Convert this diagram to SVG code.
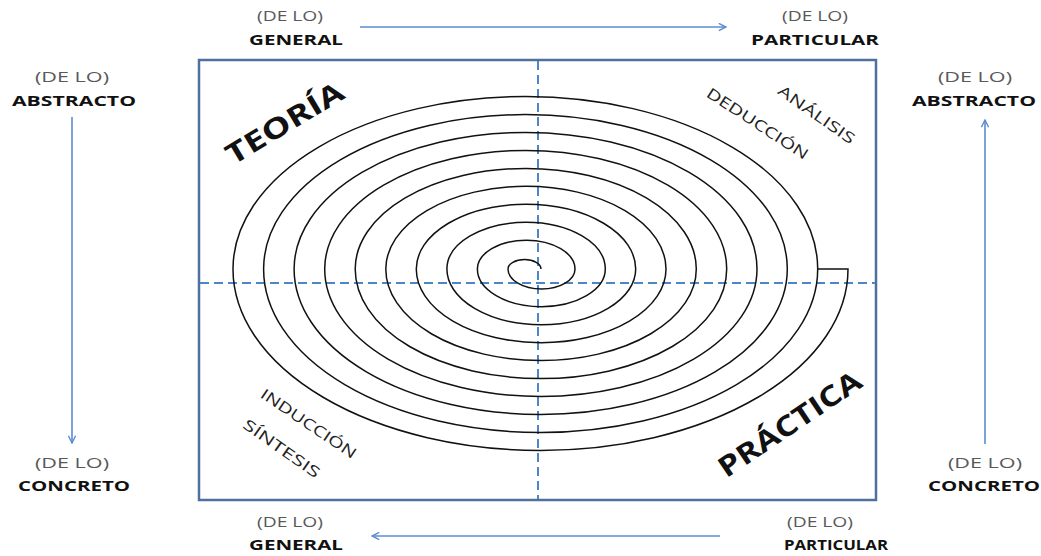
<svg xmlns="http://www.w3.org/2000/svg" width="1041" height="556" viewBox="0 0 1041 556">
  <defs>
    <marker id="head" viewBox="0 0 10 10" refX="9" refY="5" markerWidth="9" markerHeight="9" markerUnits="userSpaceOnUse" orient="auto">
      <path d="M1,1 L9,5 L1,9" fill="none" stroke="#5b8dd0" stroke-width="1.6"/>
    </marker>
    <style>
      .frame { fill: #ffffff; stroke: #4f6f9f; stroke-width: 2.5; }
      .axis { fill: none; stroke: #4a86c8; stroke-width: 2; stroke-dasharray: 9 5; }
      .spiral { fill: none; stroke: #111111; stroke-width: 1.5; }
      .arrow { fill: none; stroke: #5b8dd0; stroke-width: 1.6; marker-end: url(#head); }
      .pre { font-family: "Open Sans", "Liberation Sans", sans-serif; font-size: 15px; fill: #595959; text-anchor: middle; }
      .term { font-family: "Open Sans", "Liberation Sans", sans-serif; font-size: 15px; font-weight: bold; fill: #111111; text-anchor: middle; }
      .title { font-family: "Open Sans", "Liberation Sans", sans-serif; font-size: 28px; font-weight: bold; fill: #111111; text-anchor: middle; dominant-baseline: central; }
      .method { font-family: "Open Sans", "Liberation Sans", sans-serif; font-size: 15px; fill: #222222; text-anchor: middle; dominant-baseline: central; }
    </style>
  </defs>

  <rect width="1041" height="556" fill="#ffffff"/>

  <!-- square frame with quadrant axes -->
  <g id="frame">
    <rect class="frame" x="199" y="60" width="677" height="440"/>
    <line class="axis" x1="538" y1="61" x2="538" y2="499"/>
    <line class="axis" x1="200" y1="283" x2="875" y2="283"/>
  </g>

  <!-- spiral built from alternating half-ellipses -->
  <g id="spiral">
    <path class="spiral" d="M541,269
      A16.5,9.5 0 0 0 508,269
      A33.5,20 0 0 0 575,269
      A48.8,28.8 0 0 0 477.4,269
      A63.95,37.7 0 0 0 605.3,269
      A79.2,46.7 0 0 0 446.9,269
      A94.4,55.7 0 0 0 635.7,269
      A109.7,64.7 0 0 0 416.3,269
      A124.85,73.7 0 0 0 666,269
      A140.1,82.7 0 0 0 385.8,269
      A155.25,91.6 0 0 0 696.3,269
      A170.55,100.6 0 0 0 355.2,269
      A185.75,109.6 0 0 0 726.7,269
      A201,118.6 0 0 0 324.7,269
      A216.15,127.5 0 0 0 757,269
      A231.45,136.6 0 0 0 294.1,269
      A246.6,145.5 0 0 0 787.3,269
      A261.85,154.5 0 0 0 263.6,269
      A277.05,163.5 0 0 0 817.7,269
      A292.35,172.5 0 0 0 233,269
      A307.5,181.4 0 0 0 848,269
      H817.7"/>
  </g>

  <!-- quadrant labels -->
  <g id="teoria">
    <text class="title" transform="translate(284,122) rotate(-31)" textLength="132" lengthAdjust="spacingAndGlyphs">TEORÍA</text>
  </g>
  <g id="practica">
    <text class="title" transform="translate(789,423) rotate(-34)" textLength="166" lengthAdjust="spacingAndGlyphs">PRÁCTICA</text>
  </g>
  <g id="analisis">
    <text class="method" transform="translate(817,114) rotate(35)" textLength="90" lengthAdjust="spacingAndGlyphs">ANÁLISIS</text>
  </g>
  <g id="deduccion">
    <text class="method" transform="translate(758,123) rotate(33)" textLength="118" lengthAdjust="spacingAndGlyphs">DEDUCCIÓN</text>
  </g>
  <g id="induccion">
    <text class="method" transform="translate(309,423) rotate(34)" textLength="112" lengthAdjust="spacingAndGlyphs">INDUCCIÓN</text>
  </g>
  <g id="sintesis">
    <text class="method" transform="translate(282,448) rotate(35)" textLength="90" lengthAdjust="spacingAndGlyphs">SÍNTESIS</text>
  </g>

  <!-- end labels -->
  <g id="top-general">
    <text class="pre" x="290" y="21" textLength="66" lengthAdjust="spacingAndGlyphs">(DE LO)</text>
    <text class="term" x="296" y="45" textLength="94" lengthAdjust="spacingAndGlyphs">GENERAL</text>
  </g>
  <g id="top-particular">
    <text class="pre" x="815" y="21" textLength="66" lengthAdjust="spacingAndGlyphs">(DE LO)</text>
    <text class="term" x="815" y="45" textLength="128" lengthAdjust="spacingAndGlyphs">PARTICULAR</text>
  </g>
  <g id="left-abstracto">
    <text class="pre" x="72" y="82" textLength="74" lengthAdjust="spacingAndGlyphs">(DE LO)</text>
    <text class="term" x="74" y="106" textLength="124" lengthAdjust="spacingAndGlyphs">ABSTRACTO</text>
  </g>
  <g id="left-concreto">
    <text class="pre" x="72" y="468" textLength="74" lengthAdjust="spacingAndGlyphs">(DE LO)</text>
    <text class="term" x="74" y="491" textLength="112" lengthAdjust="spacingAndGlyphs">CONCRETO</text>
  </g>
  <g id="right-abstracto">
    <text class="pre" x="975" y="82" textLength="74" lengthAdjust="spacingAndGlyphs">(DE LO)</text>
    <text class="term" x="974" y="106" textLength="124" lengthAdjust="spacingAndGlyphs">ABSTRACTO</text>
  </g>
  <g id="right-concreto">
    <text class="pre" x="985" y="468" textLength="74" lengthAdjust="spacingAndGlyphs">(DE LO)</text>
    <text class="term" x="984" y="491" textLength="112" lengthAdjust="spacingAndGlyphs">CONCRETO</text>
  </g>
  <g id="bottom-general">
    <text class="pre" x="290" y="527" textLength="66" lengthAdjust="spacingAndGlyphs">(DE LO)</text>
    <text class="term" x="296" y="550" textLength="94" lengthAdjust="spacingAndGlyphs">GENERAL</text>
  </g>
  <g id="bottom-particular">
    <text class="pre" x="820" y="527" textLength="66" lengthAdjust="spacingAndGlyphs">(DE LO)</text>
    <text class="term" x="836" y="550" textLength="104" lengthAdjust="spacingAndGlyphs">PARTICULAR</text>
  </g>

  <!-- direction arrows -->
  <g id="connectors">
    <line class="arrow" x1="360" y1="27" x2="726" y2="27"/>
    <line class="arrow" x1="720" y1="536" x2="372" y2="536"/>
    <line class="arrow" x1="72" y1="117" x2="72" y2="443"/>
    <line class="arrow" x1="985" y1="444" x2="985" y2="120"/>
  </g>
</svg>
